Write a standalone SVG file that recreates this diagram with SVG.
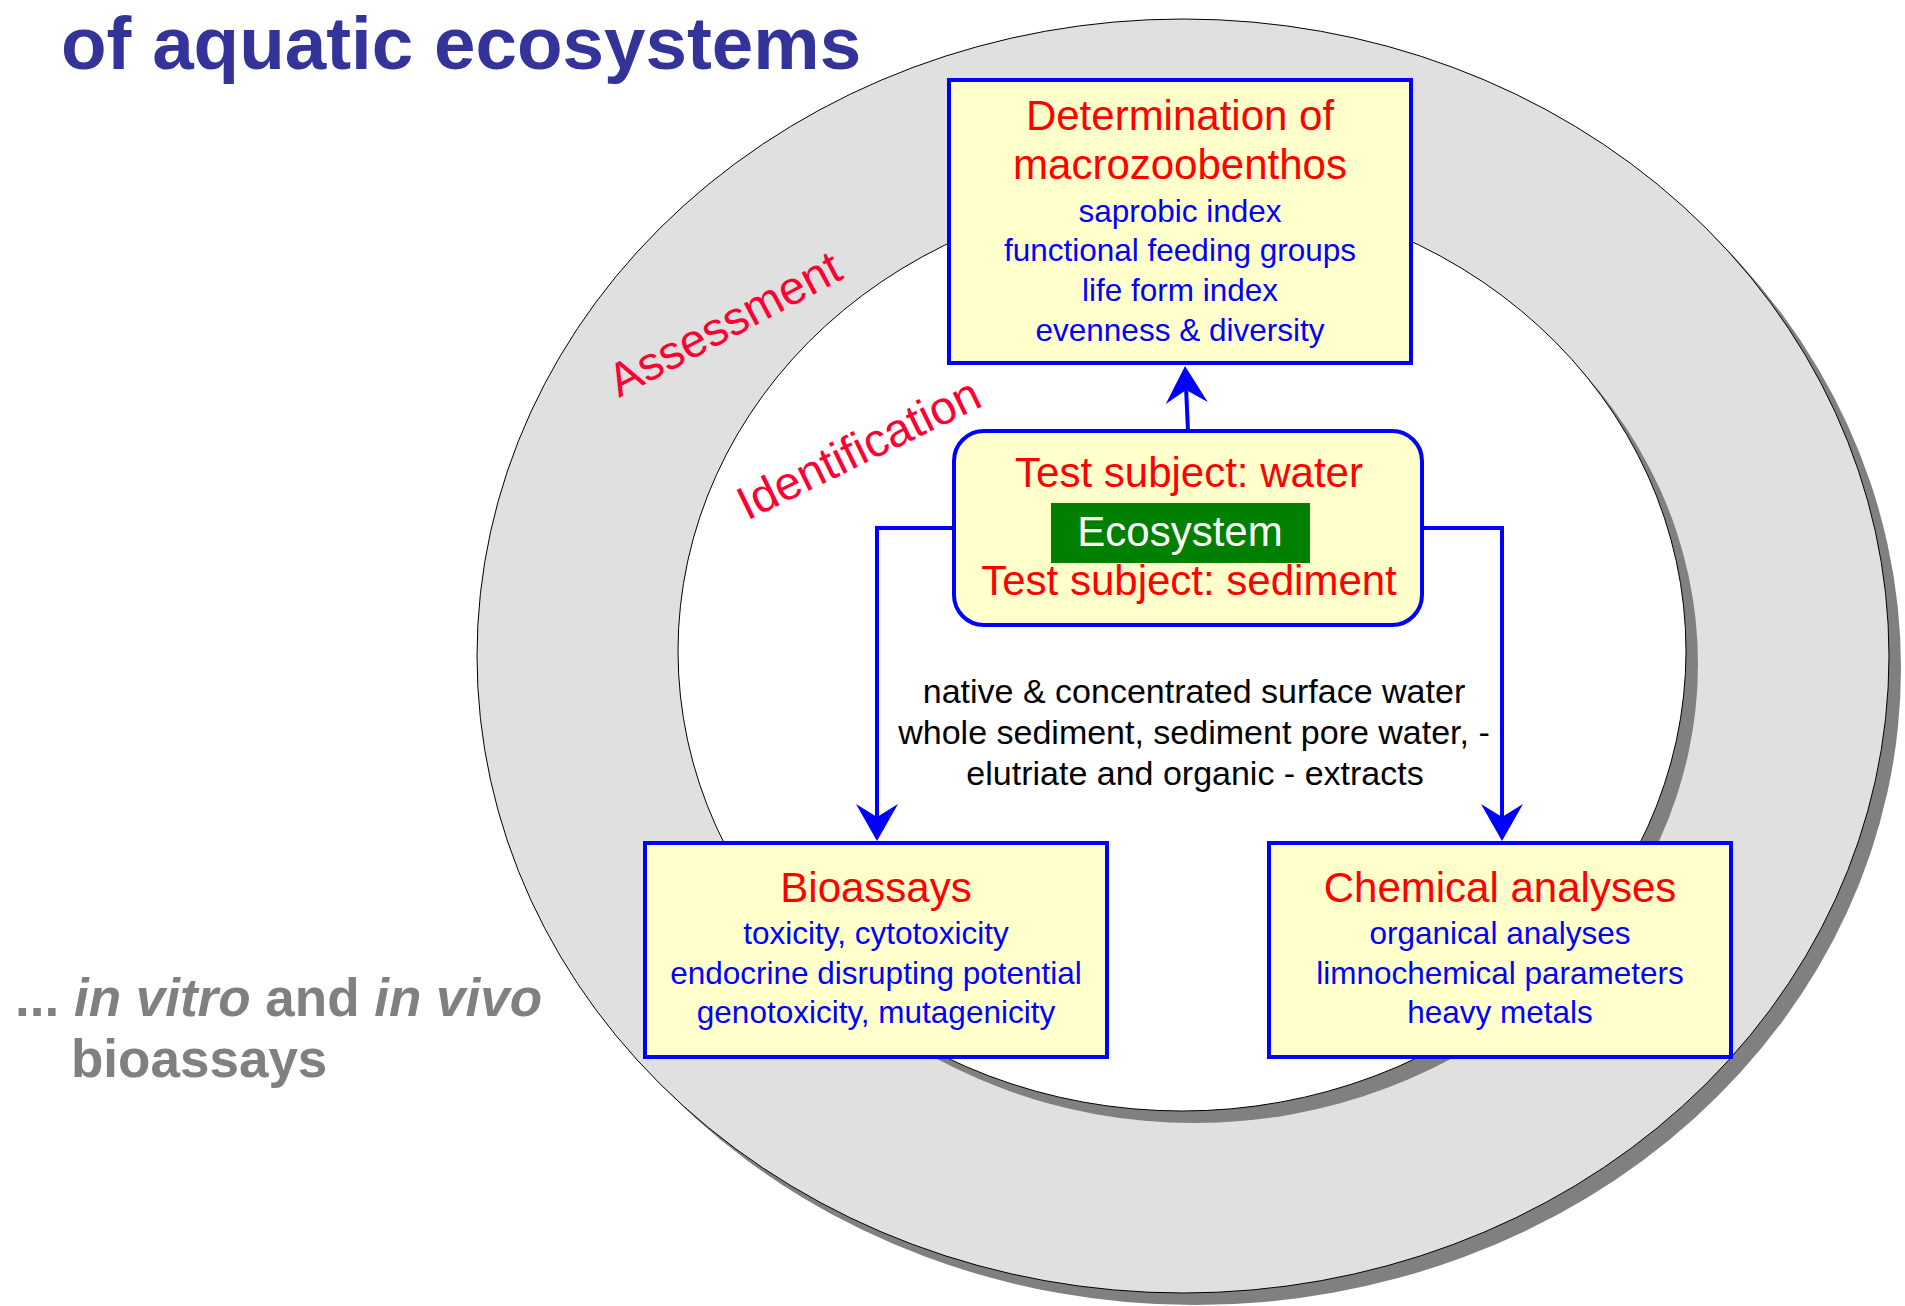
<svg xmlns="http://www.w3.org/2000/svg" width="1905" height="1306" viewBox="0 0 1905 1306">
<defs>
<style>
.box{fill:#ffffcc;stroke:#0000ff;stroke-width:4}
.t{font-family:"Liberation Sans",Arial,sans-serif;text-anchor:middle}
.red{fill:#ff0000;font-size:42px}
.blue{fill:#0000ff;font-size:31.5px}
.blk{fill:#000000;font-size:34px}
.lbl{font-family:"Liberation Sans",Arial,sans-serif;fill:#ff0033;font-size:47px}
.conn{fill:none;stroke:#0000ff;stroke-width:4}
.shadow{fill:#808080}
</style>
<marker id="arr" markerUnits="userSpaceOnUse" markerWidth="40" markerHeight="44" viewBox="0 0 40 44" refX="27" refY="22" orient="auto">
<path d="M0,1 L37,22 L0,43 L13,22 Z" fill="#0000ff"/>
</marker>
</defs>
<rect width="1905" height="1306" fill="#ffffff"/>
<g id="ring">
<ellipse class="shadow" cx="1195" cy="668" rx="706" ry="637"/>
<ellipse cx="1183" cy="656" rx="706" ry="637" fill="#e0e0e0" stroke="#000000" stroke-width="1"/>
<ellipse class="shadow" cx="1194" cy="664" rx="504" ry="459"/>
<ellipse cx="1182" cy="651" rx="504" ry="460" fill="#ffffff" stroke="#000000" stroke-width="1"/>
</g>
<g id="title">
<text x="61" y="69" font-family="Liberation Sans,Arial,sans-serif" font-weight="bold" font-size="74.6" fill="#333399">of aquatic ecosystems</text>
</g>
<g id="side-note" font-family="Liberation Sans,Arial,sans-serif" font-weight="bold" font-size="53" fill="#808080">
<text x="15" y="1016">... <tspan font-style="italic">in vitro</tspan> and <tspan font-style="italic">in vivo</tspan></text>
<text x="71" y="1077">bioassays</text>
</g>
<g id="label-assessment">
<text class="lbl" transform="translate(619,398) rotate(-28)">Assessment</text>
</g>
<g id="label-identification">
<text class="lbl" transform="translate(747,521) rotate(-26)">Identification</text>
</g>
<g id="connectors">
<path class="conn" d="M954,528 H877 V831" marker-end="url(#arr)"/>
<path class="conn" d="M1422,528 H1502 V831" marker-end="url(#arr)"/>
<path class="conn" d="M1188,431 L1185.5,376" marker-end="url(#arr)"/>
</g>
<g id="node-macrozoobenthos">
<rect class="box" x="949" y="80" width="462" height="283"/>
<text class="t red" x="1180" y="130">Determination of</text>
<text class="t red" x="1180" y="179">macrozoobenthos</text>
<text class="t blue" x="1180" y="222">saprobic index</text>
<text class="t blue" x="1180" y="261">functional feeding groups</text>
<text class="t blue" x="1180" y="301">life form index</text>
<text class="t blue" x="1180" y="341">evenness &amp; diversity</text>
</g>
<g id="node-ecosystem">
<rect class="box" x="954" y="431" width="468" height="194" rx="30" ry="30"/>
<text class="t red" x="1189" y="487" font-size="42.3">Test subject: water</text>
<rect x="1051" y="503" width="259" height="60" fill="#008000"/>
<text class="t" x="1180" y="546" font-size="42" fill="#ffffff">Ecosystem</text>
<text class="t red" x="1189" y="595" font-size="42.3">Test subject: sediment</text>
</g>
<g id="sample-text">
<text class="t blk" x="1194" y="703">native &amp; concentrated surface water</text>
<text class="t blk" x="1194" y="744">whole sediment, sediment pore water, -</text>
<text class="t blk" x="1195" y="785">elutriate and organic - extracts</text>
</g>
<g id="node-bioassays">
<rect class="box" x="645" y="843" width="462" height="214"/>
<text class="t red" x="876" y="902">Bioassays</text>
<text class="t blue" x="876" y="944">toxicity, cytotoxicity</text>
<text class="t blue" x="876" y="984">endocrine disrupting potential</text>
<text class="t blue" x="876" y="1023">genotoxicity, mutagenicity</text>
</g>
<g id="node-chemical">
<rect class="box" x="1269" y="843" width="462" height="214"/>
<text class="t red" x="1500" y="902">Chemical analyses</text>
<text class="t blue" x="1500" y="944">organical analyses</text>
<text class="t blue" x="1500" y="984">limnochemical parameters</text>
<text class="t blue" x="1500" y="1023">heavy metals</text>
</g>
</svg>
